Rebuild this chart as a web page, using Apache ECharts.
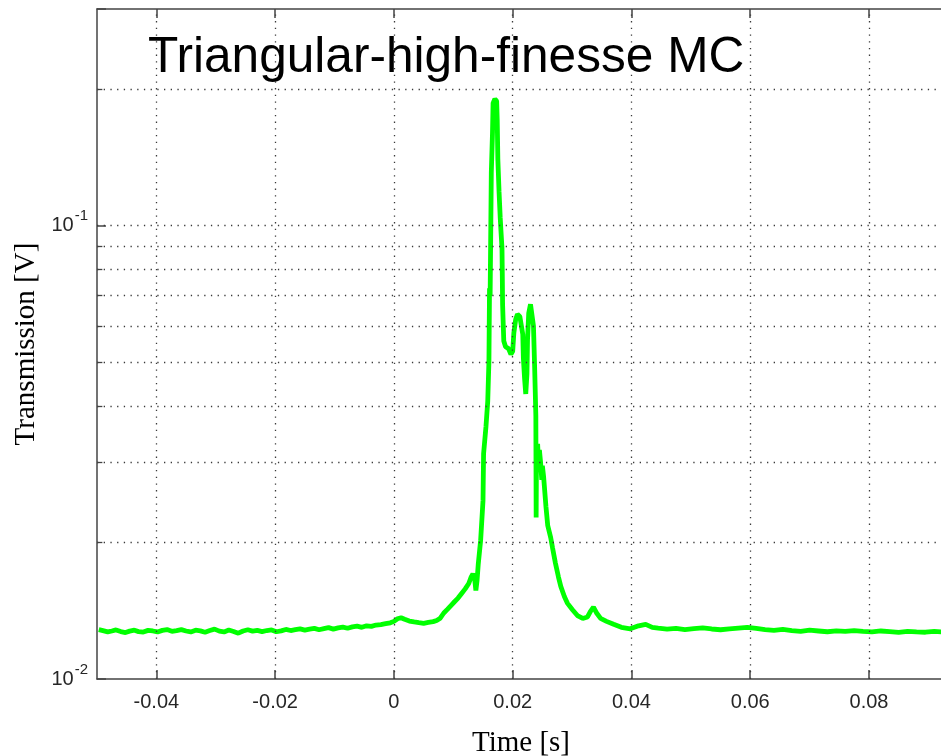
<!DOCTYPE html>
<html>
<head>
<meta charset="utf-8">
<title>Triangular-high-finesse MC</title>
<script src="https://cdn.jsdelivr.net/npm/echarts@6/dist/echarts.min.js"></script>
<style>
  html, body { margin: 0; padding: 0; background: #ffffff; }
  #chart { width: 941px; height: 756px; }
</style>
</head>
<body>
<div id="chart"></div>
<script>
// Time stamps of the transmission trace [s]
const timeS = [
  -0.0497, -0.0490, -0.0482, -0.0475, -0.0468, -0.0460, -0.0452, -0.0445, -0.0437, -0.0430,
  -0.0422, -0.0414, -0.0406, -0.0398, -0.0390, -0.0382, -0.0374, -0.0366, -0.0358, -0.0350,
  -0.0342, -0.0334, -0.0326, -0.0318, -0.0310, -0.0302, -0.0294, -0.0286, -0.0278, -0.0270,
  -0.0262, -0.0254, -0.0246, -0.0238, -0.0230, -0.0222, -0.0214, -0.0206, -0.0198, -0.0190,
  -0.0182, -0.0174, -0.0166, -0.0158, -0.0150, -0.0142, -0.0134, -0.0126, -0.0118, -0.0110,
  -0.0102, -0.0094, -0.0086, -0.0078, -0.0070, -0.0062, -0.0054, -0.0046, -0.0038, -0.0030,
  -0.0022, -0.0014, -0.0006,
  0.0000, 0.0006, 0.0012, 0.0018, 0.0026, 0.0034, 0.0042, 0.0050, 0.0058, 0.0066,
  0.0072, 0.0078, 0.0084, 0.0090, 0.0096, 0.0102, 0.0108, 0.0114, 0.0120, 0.0126,
  0.0130, 0.0133, 0.0136, 0.0138, 0.0140, 0.0142, 0.0146, 0.0150, 0.0151, 0.0155,
  0.0158, 0.0160, 0.0161, 0.0162, 0.0163, 0.0164, 0.0166, 0.0167, 0.0170, 0.0173,
  0.0174, 0.0175, 0.0177, 0.0179, 0.0180, 0.0182, 0.01825, 0.0183, 0.0185, 0.0188,
  0.0193, 0.0197, 0.0200, 0.0202, 0.0205, 0.0208, 0.0212, 0.0215, 0.0217, 0.0218,
  0.0220, 0.0222, 0.0224, 0.0225, 0.0227, 0.0230, 0.0233, 0.0235, 0.0237, 0.0239,
  0.02395, 0.0240, 0.0242, 0.0244, 0.0245, 0.0247, 0.0249, 0.0250, 0.0252, 0.0256,
  0.0259, 0.0264, 0.0267, 0.0272, 0.0277, 0.0281, 0.0287, 0.0292, 0.0301, 0.0309,
  0.0318, 0.0326, 0.0331, 0.0336, 0.0341, 0.0348, 0.0358, 0.0370, 0.0383, 0.0398,
  0.0412, 0.0424, 0.0435,
  0.0445, 0.0460, 0.0475, 0.0490, 0.0505, 0.0520, 0.0535, 0.0550, 0.0565, 0.0580,
  0.0595, 0.0610, 0.0625, 0.0640, 0.0655, 0.0670, 0.0685, 0.0700, 0.0715, 0.0730,
  0.0745, 0.0760, 0.0775, 0.0790, 0.0805, 0.0820, 0.0835, 0.0850, 0.0865, 0.0880,
  0.0895, 0.0910, 0.0925
];

// Measured transmission [V]
const transmissionV = [
  0.01285, 0.01278, 0.01270, 0.01276, 0.01283, 0.01272, 0.01266, 0.01275, 0.01281, 0.01272,
  0.01269, 0.01280, 0.01276, 0.01270, 0.01280, 0.01285, 0.01274, 0.01279, 0.01285, 0.01276,
  0.01270, 0.01281, 0.01277, 0.01268, 0.01279, 0.01288, 0.01275, 0.01270, 0.01282, 0.01273,
  0.01262, 0.01276, 0.01284, 0.01275, 0.01280, 0.01272, 0.01279, 0.01283, 0.01271, 0.01277,
  0.01286, 0.01279, 0.01285, 0.01290, 0.01282, 0.01288, 0.01293, 0.01284, 0.01291, 0.01298,
  0.01288, 0.01296, 0.01301, 0.01294, 0.01303, 0.01308, 0.01300, 0.01310, 0.01306, 0.01315,
  0.01318, 0.01324, 0.01330,
  0.01340, 0.01358, 0.01365, 0.01354, 0.01342, 0.01336, 0.01331, 0.01327, 0.01333, 0.01338,
  0.01346, 0.01362, 0.01398, 0.01424, 0.01452, 0.01480, 0.01508, 0.01544, 0.01580, 0.01624,
  0.01678, 0.01706, 0.01660, 0.01568, 0.01650, 0.01790, 0.02020, 0.02470, 0.03140, 0.03600,
  0.04100, 0.05020, 0.07270, 0.07000, 0.09500, 0.13100, 0.16000, 0.18600, 0.19000, 0.18800,
  0.17000, 0.14000, 0.11900, 0.10400, 0.09850, 0.08900, 0.07800, 0.06700, 0.05560, 0.05400,
  0.05350, 0.05200, 0.05280, 0.05800, 0.06200, 0.06370, 0.06300, 0.06280, 0.05750, 0.05100,
  0.04600, 0.04250, 0.04700, 0.05600, 0.06400, 0.06700, 0.06650, 0.06000, 0.04850, 0.03800,
  0.02270, 0.03000, 0.03300, 0.02900, 0.03200, 0.03000, 0.02750, 0.02950, 0.02800, 0.02400,
  0.02180, 0.02050, 0.01950, 0.01800, 0.01680, 0.01600, 0.01520, 0.01470, 0.01420, 0.01380,
  0.01360, 0.01370, 0.01410, 0.01440, 0.01400, 0.01360, 0.01340, 0.01320, 0.01300, 0.01290,
  0.01310, 0.01320, 0.01300,
  0.01295, 0.01288, 0.01293, 0.01285, 0.01292, 0.01296, 0.01289, 0.01284, 0.01290, 0.01295,
  0.01300, 0.01293, 0.01285, 0.01280, 0.01286, 0.01278, 0.01274, 0.01281, 0.01276, 0.01271,
  0.01277, 0.01273, 0.01279, 0.01274, 0.01270, 0.01276, 0.01272, 0.01267, 0.01274, 0.01270,
  0.01268, 0.01273, 0.01270
];

// Axis ranges, ticks and grid positions
const xRange = [-0.05, 0.0928];
const yRange = [0.01, 0.3];
const xTicks = [-0.04, -0.02, 0, 0.02, 0.04, 0.06, 0.08];
const yGridLines = [0.02, 0.03, 0.04, 0.05, 0.06, 0.07, 0.08, 0.09, 0.1, 0.2];
const yMinorTicks = [0.02, 0.03, 0.04, 0.05, 0.06, 0.07, 0.08, 0.09, 0.2];

const AXIS_COLOR = '#444444';
const TEXT_COLOR = '#262626';
const SANS = '"Liberation Sans", Arial, Helvetica, sans-serif';
const SERIF = '"Liberation Serif", "Times New Roman", Times, serif';
const MINOR_TICK_SPAN = 0.0009; // minor tick length along the time axis

const dotted = { color: '#3a3a3a', width: 1.3, type: [1.3, 5.4] };
const minorTickStyle = { color: AXIS_COLOR, width: 1.3, type: 'solid' };

const chart = echarts.init(document.getElementById('chart'), null, { renderer: 'canvas' });

// Log-axis labels as powers of ten with a raised exponent
function decadeLabel(v) {
  const e = Math.log10(v);
  const r = Math.round(e);
  if (Math.abs(e - r) > 1e-6) return '';
  return '{b|10}{s|' + r + '}';
}

const gridLineData = xTicks.map(function (v) { return { xAxis: v }; })
  .concat(yGridLines.map(function (v) { return { yAxis: v }; }))
  .concat(yMinorTicks.map(function (v) {
    return [
      { coord: [xRange[0], v], lineStyle: minorTickStyle },
      { coord: [xRange[0] + MINOR_TICK_SPAN, v] }
    ];
  }));

const option = {
  animation: false,
  backgroundColor: '#ffffff',
  title: {
    text: 'Triangular-high-finesse MC',
    left: 143,
    top: 28,
    textStyle: { fontFamily: SANS, fontSize: 49.6, fontWeight: 'normal', color: '#000000' }
  },
  grid: { left: 97, top: 9, right: -4, bottom: 77, containLabel: false, outerBoundsMode: 'none' },
  xAxis: [
    {
      type: 'value',
      position: 'bottom',
      min: xRange[0],
      max: xRange[1],
      name: 'Time [s]',
      nameLocation: 'middle',
      nameGap: 50,
      nameTextStyle: { fontFamily: SERIF, fontSize: 29, color: '#000000' },
      axisLine: { show: true, onZero: false, lineStyle: { color: AXIS_COLOR, width: 1.5 } },
      axisTick: { show: true, inside: true, length: 9, customValues: xTicks, lineStyle: { color: AXIS_COLOR, width: 1.5 } },
      axisLabel: {
        show: true,
        margin: 13,
        customValues: xTicks,
        fontFamily: SANS,
        fontSize: 20,
        color: TEXT_COLOR,
        formatter: function (v) { return Math.abs(v) < 1e-9 ? '0' : v.toFixed(2); }
      },
      splitLine: { show: false }
    },
    {
      type: 'value',
      position: 'top',
      min: xRange[0],
      max: xRange[1],
      axisLine: { show: true, onZero: false, lineStyle: { color: AXIS_COLOR, width: 1.5 } },
      axisTick: { show: true, inside: true, length: 9, customValues: xTicks, lineStyle: { color: AXIS_COLOR, width: 1.5 } },
      axisLabel: { show: false },
      splitLine: { show: false }
    }
  ],
  yAxis: {
    type: 'log',
    logBase: 10,
    min: yRange[0],
    max: yRange[1],
    name: 'Transmission [V]',
    nameLocation: 'middle',
    nameRotate: 90,
    nameGap: 56,
    nameTextStyle: { fontFamily: SERIF, fontSize: 29, color: '#000000' },
    axisLine: { show: true, onZero: false, lineStyle: { color: AXIS_COLOR, width: 1.5 } },
    axisTick: { show: true, inside: true, length: 9, lineStyle: { color: AXIS_COLOR, width: 1.5 } },
    axisLabel: {
      show: true,
      margin: 9,
      formatter: decadeLabel,
      rich: {
        b: { fontFamily: SANS, fontSize: 20, lineHeight: 34, color: TEXT_COLOR, verticalAlign: 'middle' },
        s: { fontFamily: SANS, fontSize: 15, lineHeight: 16, color: TEXT_COLOR, verticalAlign: 'top', padding: [0, 0, 0, 1] }
      }
    },
    splitLine: { show: false }
  },
  series: [
    {
      // dotted grid and minor ticks drawn beneath the trace
      name: 'grid',
      type: 'line',
      data: [],
      silent: true,
      z: 1,
      markLine: {
        silent: true,
        animation: false,
        symbol: ['none', 'none'],
        label: { show: false },
        lineStyle: dotted,
        emphasis: { disabled: true },
        data: gridLineData
      }
    },
    {
      name: 'Transmission',
      type: 'line',
      z: 3,
      showSymbol: false,
      symbol: 'none',
      clip: true,
      data: timeS.map(function (t, i) { return [t, transmissionV[i]]; }),
      lineStyle: { color: '#00ff00', width: 4.8 },
      itemStyle: { color: '#00ff00' }
    }
  ]
};

chart.setOption(option);
</script>
</body>
</html>
